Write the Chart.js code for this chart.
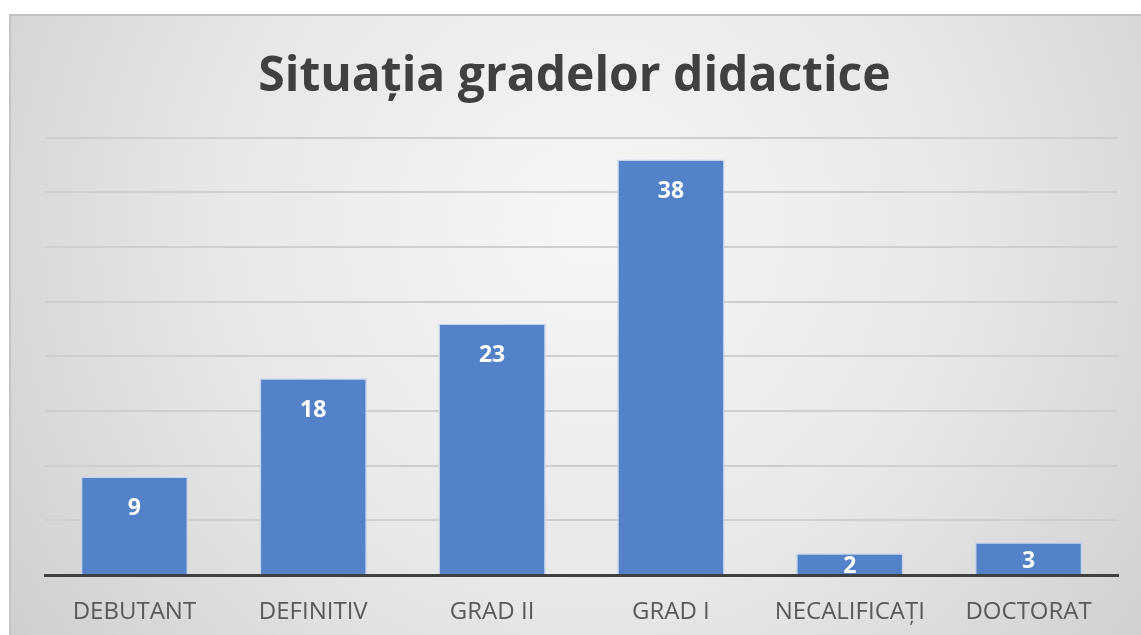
<!DOCTYPE html>
<html>
<head>
<meta charset="utf-8">
<script src="https://cdn.jsdelivr.net/npm/chart.js@4.4.1/dist/chart.umd.min.js"></script>
<style>
html,body{margin:0;padding:0;background:#fff;}
#wrap{width:1141px;height:635px;position:relative;}
</style>
</head>
<body>
<div id="wrap"><canvas id="c" width="1141" height="635"></canvas></div>
<script>
const titleText = "Situația gradelor didactice";
const categories = ["DEBUTANT", "DEFINITIV", "GRAD II", "GRAD I", "NECALIFICAȚI", "DOCTORAT"];
const values = [9, 18, 23, 38, 2, 3];
const yMax = 40;
const yStep = 5;

const bgPlugin = {
  id: 'bg',
  beforeDraw(chart) {
    const ctx = chart.ctx;
    ctx.save();
    ctx.fillStyle = '#ffffff';
    ctx.fillRect(0, 0, chart.width, chart.height);
    const g = ctx.createRadialGradient(590, 230, 0, 590, 230, 720);
    g.addColorStop(0, '#f6f6f6');
    g.addColorStop(0.5, '#e8e8e8');
    g.addColorStop(1, '#cecece');
    ctx.fillStyle = g;
    ctx.fillRect(9, 14, chart.width - 9, chart.height - 14);
    ctx.strokeStyle = '#c4c4c4';
    ctx.lineWidth = 2;
    ctx.beginPath();
    ctx.moveTo(10, chart.height);
    ctx.lineTo(10, 15);
    ctx.lineTo(chart.width, 15);
    ctx.stroke();
    ctx.restore();
  }
};

const labelPlugin = {
  id: 'vlabels',
  afterDatasetsDraw(chart) {
    const ctx = chart.ctx;
    const meta = chart.getDatasetMeta(0);
    const area = chart.chartArea;
    ctx.save();
    ctx.beginPath();
    ctx.rect(area.left, area.top, area.right - area.left, area.bottom - area.top);
    ctx.clip();
    ctx.font = 'bold 23px "Open Sans"';
    ctx.fillStyle = '#ffffff';
    ctx.textAlign = 'center';
    ctx.textBaseline = 'middle';
    meta.data.forEach((bar, i) => {
      const h = bar.base - bar.y;
      const off = Math.min(32, h / 2 + 3);
      ctx.fillText(String(values[i]), bar.x, bar.y + off);
    });
    ctx.restore();
  }
};

new Chart(document.getElementById('c'), {
  type: 'bar',
  data: {
    labels: categories,
    datasets: [{
      data: values,
      backgroundColor: '#5482c8',
      borderColor: '#c5d4ee',
      borderWidth: 1.5,
      barPercentage: 0.6,
      categoryPercentage: 1.0
    }]
  },
  options: {
    responsive: false,
    animation: false,
    layout: { padding: { left: 31, right: 23, top: 0, bottom: 0 } },
    plugins: {
      legend: { display: false },
      tooltip: { enabled: false },
      title: {
        display: true,
        text: titleText,
        color: '#404040',
        font: { family: '"Open Sans"', size: 48, weight: 'bold', lineHeight: 1.2 },
        padding: { top: 49, bottom: 31 }
      }
    },
    scales: {
      x: {
        afterFit(scale) { scale.height = 60; },
        grid: { display: false, drawTicks: false },
        border: { display: true, color: '#404040', width: 3 },
        ticks: { color: '#595959', font: { family: '"Open Sans"', size: 24 }, padding: 23, maxRotation: 0, autoSkip: false }
      },
      y: {
        afterFit(scale) { scale.width = 14; },
        min: 0,
        max: yMax,
        ticks: { display: false, stepSize: yStep },
        grid: { color: '#cfcfcf', lineWidth: 2, drawTicks: false },
        border: { display: false }
      }
    }
  },
  plugins: [bgPlugin, labelPlugin]
});
</script>
</body>
</html>
